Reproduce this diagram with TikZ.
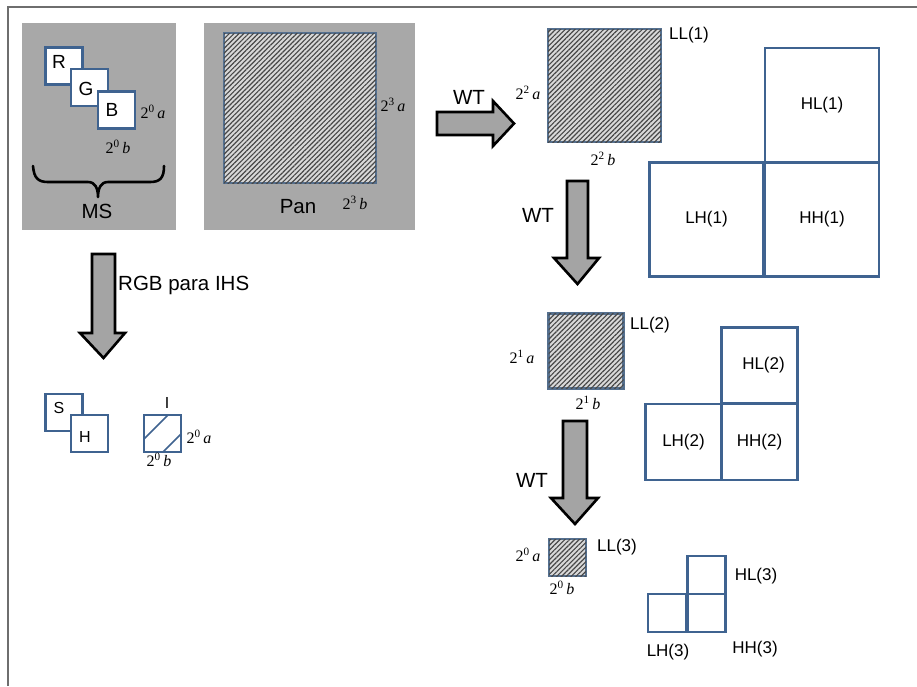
\documentclass[tikz,border=0pt]{standalone}
\usepackage{fontspec}
\setmainfont{Liberation Sans}
\newfontfamily\tms{Liberation Serif}
\usetikzlibrary{patterns.meta}
\definecolor{boxblue}{HTML}{3F6390}
\definecolor{hatchedge}{HTML}{55708F}
\definecolor{panel}{HTML}{A8A8A8}
\definecolor{framecol}{HTML}{6E6E6E}
\definecolor{arrowfill}{HTML}{A4A4A4}
\tikzset{
  wbox/.style={draw=boxblue, line width=2.4pt, fill=white, inner sep=0pt, outer sep=0pt},
  hbox/.style={draw=hatchedge, line width=2.2pt, fill=gray!30, inner sep=0pt, outer sep=0pt,
     postaction={pattern={Lines[angle=45,distance=3.4pt,line width=1.15pt]}, pattern color=black!72}},
  panelbox/.style={fill=panel, draw=none, inner sep=0pt},
  bigarrow/.style={draw=black, line width=2.6pt, fill=arrowfill, line join=miter},
  lab/.style={inner sep=0pt, font=\fontsize{17}{20}\selectfont},
  biglab/.style={inner sep=0pt, font=\fontsize{20.5}{24}\selectfont},
  midlab/.style={inner sep=0pt, font=\fontsize{19}{22}\selectfont},
  smalllab/.style={inner sep=0pt, font=\fontsize{16}{19}\selectfont},
  dimlab/.style={inner sep=0pt, font=\tms\fontsize{16}{19}\selectfont},
}
\newcommand{\dimtxt}[2]{2\textsuperscript{#1}\,\textit{#2}}
\begin{document}
\begin{tikzpicture}[x=1pt,y=-1pt]
\useasboundingbox (0,0) rectangle (917,686);
\fill[white] (0,0) rectangle (917,686);
% frame
\draw[framecol, line width=2pt] (8,686) -- (8,7) -- (917,7);

% MS panel
\node[panelbox, minimum width=154pt, minimum height=207pt] (mspanel) at (99,126.5) {};
\node[wbox, minimum size=37pt] (R) at (64,66) {};
\node[wbox, minimum size=37pt] (G) at (89.5,87.5) {};
\node[wbox, minimum size=37pt] (B) at (116.5,110) {};
\node[midlab] (Rl) at (59,62) {R};
\node[midlab] (Gl) at (86,89) {G};
\node[midlab] (Bl) at (112,110) {B};
\node[dimlab] (msa) at (153,112) {\dimtxt{0}{a}};
\node[dimlab] (msb) at (118,147) {\dimtxt{0}{b}};
\draw[black, line width=2.6pt, line cap=round, line join=round]
  (33,166) .. controls (34,178) and (38,182) .. (48,182) -- (88,182)
  .. controls (95,182) and (98,188) .. (98,197)
  .. controls (98,188) and (101,182) .. (108,182) -- (150,182)
  .. controls (160,182) and (164,178) .. (164,166);
\node[biglab] (MS) at (97,211) {MS};

% Pan panel
\node[panelbox, minimum width=211pt, minimum height=207pt] (panpanel) at (309.5,126.5) {};
\node[hbox, minimum width=152pt, minimum height=150pt] (pan) at (300,108) {};
\node[biglab] (panl) at (298,207) {Pan};
\node[dimlab] (pana) at (393,105) {\dimtxt{3}{a}};
\node[dimlab] (panb) at (355,203) {\dimtxt{3}{b}};

% WT right arrow
\draw[bigarrow] (437,112) -- (493,112) -- (493,101) -- (514,123.5) -- (493,146) -- (493,135) -- (437,135) -- cycle;
\node[biglab] (wt1) at (469,97) {WT};

% level 1
\node[hbox, minimum size=113pt] (LL1) at (604.5,85.5) {};
\node[lab] (LL1l) at (689,35) {LL(1)};
\node[dimlab] (l1a) at (528,93) {\dimtxt{2}{a}};
\node[dimlab] (l1b) at (603,159) {\dimtxt{2}{b}};
\node[wbox, minimum size=114pt, lab] (HL1) at (822,105) {HL(1)};
\node[wbox, minimum size=114pt, lab] (LH1) at (706.5,219.5) {LH(1)};
\node[wbox, minimum size=114pt, lab] (HH1) at (822,219.5) {HH(1)};

% WT down arrow 1
\draw[bigarrow] (567,181) -- (588,181) -- (588,258) -- (599,258) -- (577.5,284) -- (554,258) -- (567,258) -- cycle;
\node[biglab] (wt2) at (538,215) {WT};

% RGB para IHS arrow
\draw[bigarrow] (92,254) -- (115,254) -- (115,333) -- (125,333) -- (103.5,358) -- (80,333) -- (92,333) -- cycle;
\node[biglab, anchor=west] (rgbl) at (118,285) {RGB para IHS};

% S, H, I
\node[wbox, minimum size=37pt] (S) at (64,412.5) {};
\node[wbox, minimum size=37pt] (H) at (89.5,433.5) {};
\node[smalllab] (Sl) at (59,408) {S};
\node[smalllab] (Hl) at (85,437) {H};
\node[wbox, minimum size=37pt] (I) at (162.5,433.5) {};
\begin{scope}
  \clip (I.south west) rectangle (I.north east);
  \draw[boxblue, line width=1.6pt] (133,450) -- (175,408);
  \draw[boxblue, line width=1.6pt] (155,460) -- (192,423);
\end{scope}
\draw[boxblue, line width=2.4pt] (I.south west) rectangle (I.north east);
\node[smalllab] (Il) at (167,403) {I};
\node[dimlab] (ia) at (199,437) {\dimtxt{0}{a}};
\node[dimlab] (ib) at (159,460) {\dimtxt{0}{b}};

% level 2
\node[hbox, minimum size=75pt] (LL2) at (586,351) {};
\node[lab] (LL2l) at (650,325) {LL(2)};
\node[dimlab] (l2a) at (522,357) {\dimtxt{1}{a}};
\node[dimlab] (l2b) at (588,403) {\dimtxt{1}{b}};
\node[wbox, minimum size=76pt, lab] (HL2) at (759.5,365.5) {\hspace{8pt}HL(2)};
\node[wbox, minimum size=76pt, lab] (LH2) at (683.5,442) {LH(2)};
\node[wbox, minimum size=76pt, lab] (HH2) at (759.5,442) {HH(2)};

% WT down arrow 2
\draw[bigarrow] (563,421) -- (587,421) -- (587,498) -- (598,498) -- (575,524) -- (551,498) -- (563,498) -- cycle;
\node[biglab] (wt3) at (532,480) {WT};

% level 3
\node[hbox, minimum size=37pt] (LL3) at (567.5,557.5) {};
\node[lab] (LL3l) at (617,547) {LL(3)};
\node[dimlab] (l3a) at (528,555) {\dimtxt{0}{a}};
\node[dimlab] (l3b) at (562,588) {\dimtxt{0}{b}};
\node[wbox, minimum size=38pt] (HL3) at (706.5,575) {};
\node[wbox, minimum size=38pt] (LH3) at (667,613) {};
\node[wbox, minimum size=38pt] (HH3) at (706.5,613) {};
\node[lab] (HL3l) at (756,576) {HL(3)};
\node[lab] (LH3l) at (668,652) {LH(3)};
\node[lab] (HH3l) at (755,649) {HH(3)};
\end{tikzpicture}
\end{document}
